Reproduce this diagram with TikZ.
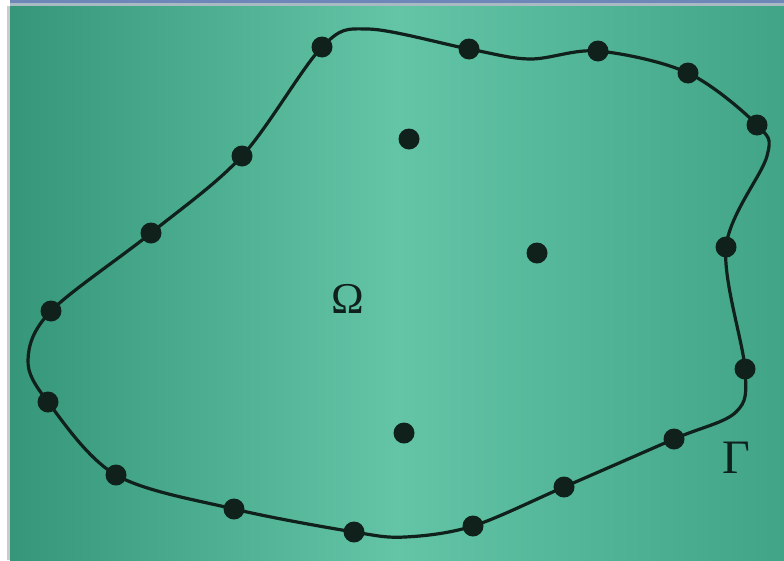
\documentclass[tikz,border=0pt]{standalone}
\usepackage{fontspec}
\setmainfont{Liberation Serif}
\definecolor{bgleft}{HTML}{359679}
\definecolor{bgmid}{HTML}{63C5A6}
\definecolor{bgright}{HTML}{41A487}
\definecolor{ink}{HTML}{10201B}
\definecolor{topline}{HTML}{6F86B8}
\definecolor{topgray}{HTML}{A9BBC2}
\definecolor{sidegray}{HTML}{C8CCCC}
\tikzset{
  dot/.style={circle,fill=ink,inner sep=0pt,minimum size=21pt},
  boundary/.style={draw=ink,line width=3.2pt},
  greek/.style={text=ink,inner sep=0pt}
}
\begin{document}
\begin{tikzpicture}[x=1pt,y=-1pt]
\useasboundingbox (0,0) rectangle (784,560);
\fill[white] (0,0) rectangle (784,560);
\shade[left color=bgleft,right color=bgright,middle color=bgmid] (10,6) rectangle (784,560);
\fill[sidegray] (7,6) rectangle (10,560);
\fill[topline] (10,0) rectangle (784,2.5);
\fill[topgray] (10,2.5) rectangle (784,6);
% boundary points
\coordinate (p1) at (322,47);
\coordinate (q1) at (368,29);
\coordinate (p2) at (469,49);
\coordinate (q2) at (530,59);
\coordinate (p3) at (598,51);
\coordinate (p4) at (688,73);
\coordinate (p5) at (757,125);
\coordinate (q5) at (767,156);
\coordinate (p6) at (726,247);
\coordinate (p7) at (745,369);
\coordinate (q7) at (736,412);
\coordinate (p8) at (674,439);
\coordinate (p9) at (564,487);
\coordinate (p10) at (473,526);
\coordinate (q10) at (405,537);
\coordinate (p11) at (354,532);
\coordinate (p12) at (234,509);
\coordinate (p13) at (116,475);
\coordinate (p14) at (48,402);
\coordinate (q14) at (28,360);
\coordinate (p15) at (51,311);
\coordinate (p16) at (151,233);
\coordinate (p17) at (242,156);
\draw[boundary] plot[smooth cycle,tension=0.55] coordinates {
  (p1) (q1) (p2) (q2) (p3) (p4) (p5) (q5) (p6) (p7) (q7) (p8) (p9) (p10) (q10)
  (p11) (p12) (p13) (p14) (q14) (p15) (p16) (p17)};
\foreach \i in {1,...,17} \node[dot] (d\i) at (p\i) {};
\node[dot] (i1) at (409,139) {};
\node[dot] (i2) at (537,253) {};
\node[dot] (i3) at (404,433) {};
\node[greek,font=\fontsize{44}{44}\selectfont] (omega) at (348,299) {Ω};
\node[greek,font=\fontsize{48}{48}\selectfont] (gamma) at (736,458) {Γ};
\end{tikzpicture}
\end{document}
